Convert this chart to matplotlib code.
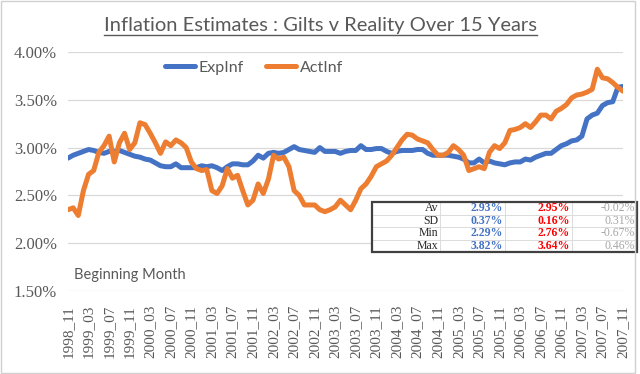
import matplotlib
matplotlib.use("Agg")
import matplotlib.pyplot as plt
from matplotlib.lines import Line2D
from matplotlib.patches import Rectangle

# monthly series, 1998_11 .. 2007_11 (values in %)
exp_inf = [
    2.89, 2.92, 2.94, 2.96, 2.98, 2.97, 2.95, 2.94, 2.96, 2.96,
    2.97, 2.95, 2.93, 2.91, 2.90, 2.88, 2.87, 2.84, 2.81, 2.80,
    2.80, 2.83, 2.79, 2.79, 2.79, 2.79, 2.81, 2.80, 2.81, 2.79,
    2.76, 2.80, 2.83, 2.83, 2.82, 2.82, 2.86, 2.92, 2.89, 2.94,
    2.95, 2.94, 2.95, 2.98, 3.01, 2.98, 2.97, 2.96, 2.95, 3.00,
    2.96, 2.96, 2.96, 2.94, 2.96, 2.97, 2.97, 3.02, 2.98, 2.98,
    2.99, 2.99, 2.96, 2.94, 2.96, 2.97, 2.97, 2.97, 2.98, 2.98,
    2.94, 2.92, 2.92, 2.92, 2.92, 2.91, 2.90, 2.88, 2.84, 2.84,
    2.88, 2.84, 2.86, 2.84, 2.83, 2.82, 2.84, 2.85, 2.85, 2.88,
    2.87, 2.90, 2.92, 2.94, 2.94, 2.98, 3.02, 3.04, 3.07, 3.08,
    3.12, 3.30, 3.34, 3.36, 3.44, 3.47, 3.48, 3.63, 3.64,
]
act_inf = [
    2.35, 2.37, 2.29, 2.55, 2.72, 2.76, 2.95, 3.02, 3.12, 2.85,
    3.05, 3.15, 2.98, 3.05, 3.26, 3.24, 3.15, 3.05, 2.94, 3.06,
    3.02, 3.08, 3.05, 3.00, 2.85, 2.78, 2.76, 2.77, 2.55, 2.52,
    2.60, 2.78, 2.68, 2.71, 2.55, 2.40, 2.45, 2.62, 2.52, 2.67,
    2.92, 2.88, 2.90, 2.80, 2.55, 2.50, 2.40, 2.40, 2.40, 2.35,
    2.33, 2.35, 2.38, 2.45, 2.40, 2.35, 2.45, 2.57, 2.62, 2.70,
    2.80, 2.83, 2.86, 2.92, 3.00, 3.08, 3.14, 3.13, 3.09, 3.07,
    3.05, 2.98, 2.92, 2.92, 2.95, 3.02, 2.98, 2.92, 2.76, 2.78,
    2.80, 2.78, 2.95, 3.02, 2.99, 3.05, 3.18, 3.19, 3.21, 3.25,
    3.21, 3.27, 3.34, 3.34, 3.30, 3.38, 3.41, 3.45, 3.52, 3.55,
    3.56, 3.58, 3.61, 3.82, 3.73, 3.72, 3.68, 3.63, 3.59,
]
tick_labels = [
    "1998_11", "1999_03", "1999_07", "1999_11", "2000_03", "2000_07", "2000_11",
    "2001_03", "2001_07", "2001_11", "2002_03", "2002_07", "2002_11", "2003_03",
    "2003_07", "2003_11", "2004_03", "2004_07", "2004_11", "2005_03", "2005_07",
    "2005_11", "2006_03", "2006_07", "2006_11", "2007_03", "2007_07", "2007_11",
]
y_ticks = [1.5, 2.0, 2.5, 3.0, 3.5, 4.0]

stat_names = ["Av", "SD", "Min", "Max"]
exp_stats = ["2.93%", "0.37%", "2.29%", "3.82%"]
act_stats = ["2.95%", "0.16%", "2.76%", "3.64%"]
diff_stats = ["-0.02%", "0.31%", "-0.67%", "0.46%"]

BLUE = "#4472C4"
ORANGE = "#ED7D31"
GREY = "#595959"
SANS = ["Lato", "DejaVu Sans"]
SERIF = ["Liberation Serif", "DejaVu Serif"]

fig = plt.figure(figsize=(6.4, 3.74), dpi=100)
fig.patches.append(Rectangle((0.002, 0.004), 0.99, 0.992, transform=fig.transFigure,
                             fill=False, edgecolor="#D0D0D0", lw=1))

ax = fig.add_axes([68 / 640, 1 - 291 / 374, 555 / 640, 239 / 374])
months = list(range(len(exp_inf)))
ax.plot(months, exp_inf, color=BLUE, lw=3.6, solid_capstyle="round",
        solid_joinstyle="round", label="ExpInf", zorder=3)
ax.plot(months, act_inf, color=ORANGE, lw=3.6, solid_capstyle="round",
        solid_joinstyle="round", label="ActInf", zorder=3)

ax.set_xlim(0, len(exp_inf) - 1)
ax.set_ylim(1.5, 4.0)
ax.set_yticks(y_ticks)
ax.set_yticklabels([f"{v:.2f}%" for v in y_ticks], family=SERIF, fontsize=12, color=GREY)
ax.set_xticks(months[::4])
ax.set_xticklabels(tick_labels, rotation=90, family=SERIF, fontsize=11, color=GREY)
ax.tick_params(length=0, pad=8)
ax.tick_params(axis="x", pad=10)
ax.grid(axis="y", color="#D9D9D9", lw=0.9)
ax.set_axisbelow(True)
for s in ax.spines.values():
    s.set_visible(False)

leg = ax.legend(loc="upper center", bbox_to_anchor=(0.335, 1.025), ncol=2, frameon=False,
                prop={"family": SANS, "size": 11.5}, labelcolor=GREY, handlelength=1.9,
                columnspacing=1.4, handletextpad=0.2)

ax.text(0.01, 0.065, "Beginning Month", transform=ax.transAxes, family=SANS,
        fontsize=10.5, color=GREY, va="center")

title = fig.text(0.5, 1 - 25 / 374, "Inflation Estimates : Gilts v Reality Over 15 Years",
                 ha="center", va="center", family=SANS, fontsize=14.5, color=GREY)

# stats table
tax = fig.add_axes([372 / 640, 1 - 252 / 374, 265 / 640, 50 / 374])
tax.axis("off")
cells = [[n, e, a, d] for n, e, a, d in zip(stat_names, exp_stats, act_stats, diff_stats)]
tbl = tax.table(cellText=cells, bbox=[0, 0, 1, 1], cellLoc="right",
                colWidths=[68, 65, 67, 65])
tbl.auto_set_font_size(False)
col_colors = ["#262626", BLUE, "#FF0000", "#A6A6A6"]
for (r, c), cell in tbl.get_celld().items():
    cell.set_edgecolor("#D9D9D9")
    cell.set_linewidth(0.6)
    cell.PAD = 0.03
    t = cell.get_text()
    t.set_family(SERIF)
    t.set_fontsize(8.5)
    t.set_color(col_colors[c])
    if c in (1, 2):
        t.set_fontweight("bold")
tax.add_patch(Rectangle((0, 0), 1, 1, transform=tax.transAxes, fill=False,
                        edgecolor="#404040", lw=1.6, zorder=5, clip_on=False))

# underline the title
fig.canvas.draw()
bb = title.get_window_extent().transformed(fig.transFigure.inverted())
fig.add_artist(Line2D([bb.x0, bb.x1], [bb.y0 - 0.004, bb.y0 - 0.004],
                      transform=fig.transFigure, color=GREY, lw=1))

fig.savefig("out.png", dpi=100)
